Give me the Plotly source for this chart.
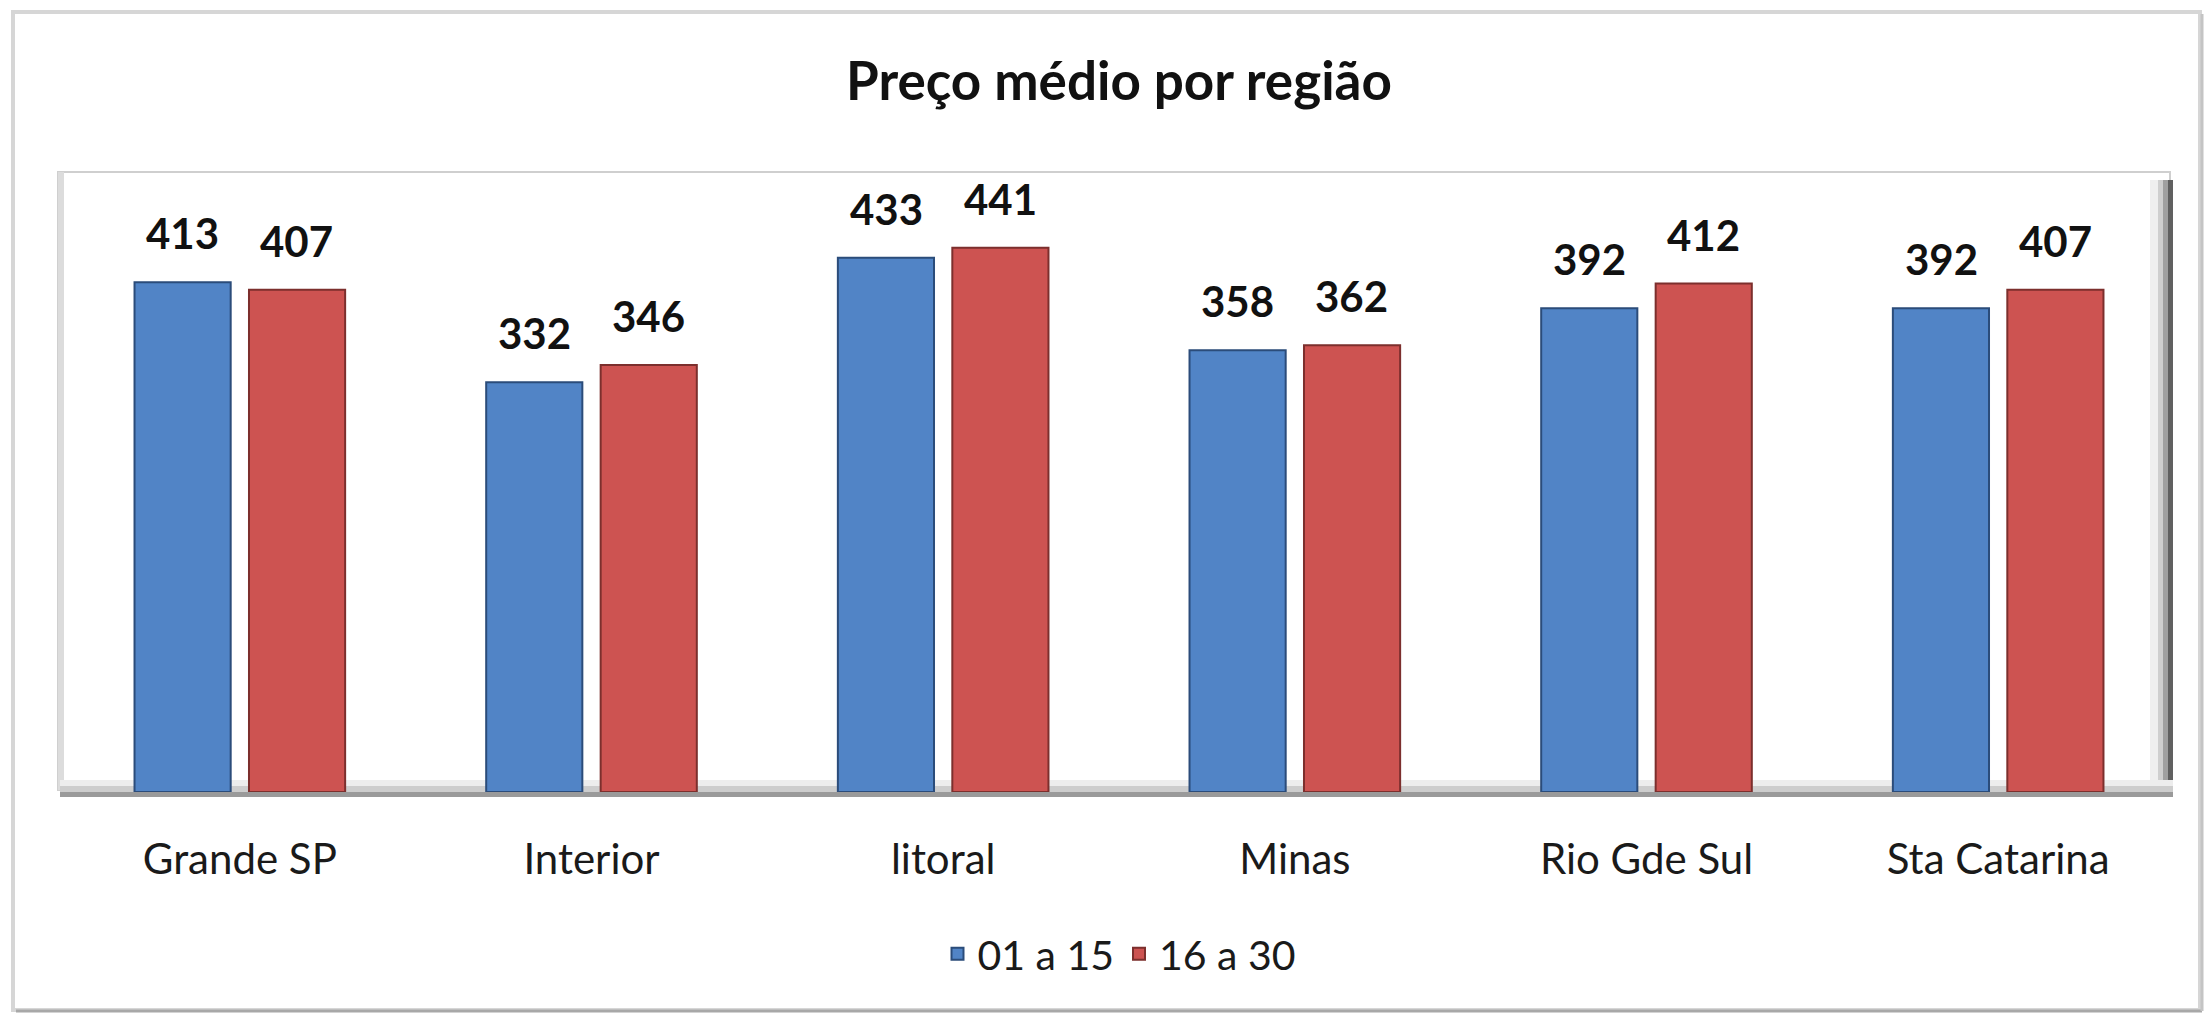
import plotly.graph_objects as go

# ---- data ----
categories = ["Grande SP", "Interior", "litoral", "Minas", "Rio Gde Sul", "Sta Catarina"]
series_names = ["01 a 15", "16 a 30"]
values_01a15 = [413, 332, 433, 358, 392, 392]
values_16a30 = [407, 346, 441, 362, 412, 407]
title_text = "Preço médio por região"
y_range = [0, 500]

# ---- geometry / style ----
W, H = 2211, 1014
ML, MR, MT, MB = 64, 37, 175, 222
PW, PH = W - ML - MR, H - MT - MB
FONT = "Lato"
BLUE, BLUE_EDGE = "#5184C6", "#2B4C7A"
RED, RED_EDGE = "#CD5351", "#7C2F2D"


def px(x):
    return (x - ML) / PW


def py(y):
    return (H - MB - y) / PH


fig = go.Figure()
fig.add_bar(name=series_names[0], x=categories, y=values_01a15,
            marker=dict(color=BLUE, line=dict(color=BLUE_EDGE, width=2)))
fig.add_bar(name=series_names[1], x=categories, y=values_16a30,
            marker=dict(color=RED, line=dict(color=RED_EDGE, width=2)))

# value labels above bars
ann = []
for vals, shift in ((values_01a15, -57), (values_16a30, 57)):
    for c, v in zip(categories, vals):
        ann.append(dict(x=c, y=v, xref="x", yref="y", text=str(v), showarrow=False,
                        xshift=shift, yshift=22, yanchor="bottom",
                        font=dict(family=FONT, size=42, color="#111111", weight="bold")))

shapes = []
# outer chart border with soft shadow
shapes.append(dict(type="rect", xref="paper", yref="paper", x0=px(13), x1=px(2200), y0=py(1010), y1=py(12),
                   line=dict(color="#D6D6D6", width=4), fillcolor="rgba(0,0,0,0)", layer="below"))
shapes.append(dict(type="line", xref="paper", yref="paper", x0=px(16), x1=px(2202), y0=py(1011), y1=py(1011),
                   line=dict(color="#A8A8A8", width=3), layer="below"))
shapes.append(dict(type="line", xref="paper", yref="paper", x0=px(2202), x1=px(2202), y0=py(1011), y1=py(14),
                   line=dict(color="#C4C4C4", width=3), layer="below"))
# back wall of plot area
shapes.append(dict(type="rect", xref="paper", yref="paper", x0=px(58), x1=px(2170), y0=py(790), y1=py(172),
                   line=dict(color="#CFCFCF", width=2), fillcolor="white", layer="below"))
shapes.append(dict(type="rect", xref="paper", yref="paper", x0=px(58), x1=px(64), y0=py(790), y1=py(172),
                   line=dict(width=0), fillcolor="#DCDCDC", layer="below"))
# right wall (shading)
for x0, x1, col in ((2150, 2158, "#EFEFEF"), (2158, 2163, "#CFCFCF"), (2163, 2168, "#A0A0A0"), (2168, 2173, "#606060")):
    shapes.append(dict(type="rect", xref="paper", yref="paper", x0=px(x0), x1=px(x1), y0=py(797), y1=py(180),
                       line=dict(width=0), fillcolor=col, layer="below"))
# floor band
for y0, y1, col in ((780, 786, "#EDEDED"), (786, 792, "#CDCDCD"), (792, 797, "#9A9A9A")):
    shapes.append(dict(type="rect", xref="paper", yref="paper", x0=px(60), x1=px(2173), y0=py(y1), y1=py(y0),
                       line=dict(width=0), fillcolor=col, layer="below"))

fig.update_layout(
    width=W, height=H,
    margin=dict(l=ML, r=MR, t=MT, b=MB),
    paper_bgcolor="white", plot_bgcolor="rgba(0,0,0,0)",
    font=dict(family=FONT, color="#1A1A1A"),
    title=dict(text=title_text, x=0.5, xref="paper", xanchor="center",
               y=1 - 81 / H, yref="container", yanchor="middle",
               font=dict(family=FONT, size=53, color="#111111", weight="bold")),
    barmode="group", bargap=0.349, bargroupgap=0.16,
    xaxis=dict(showgrid=False, showline=False, zeroline=False, ticks="outside", ticklen=31,
               tickcolor="rgba(0,0,0,0)", tickfont=dict(family=FONT, size=42, color="#1A1A1A")),
    yaxis=dict(range=y_range, visible=False, showgrid=False, zeroline=False),
    legend=dict(orientation="h", x=0.5, xanchor="center", y=py(954), yanchor="middle",
                font=dict(family=FONT, size=41, color="#1A1A1A"), itemwidth=30,
                bgcolor="rgba(0,0,0,0)"),
    annotations=ann, shapes=shapes,
    showlegend=True,
)

fig.write_html("out.html", config={"displayModeBar": False},
               post_script="document.body.style.margin='0';document.body.style.overflow='hidden';")
